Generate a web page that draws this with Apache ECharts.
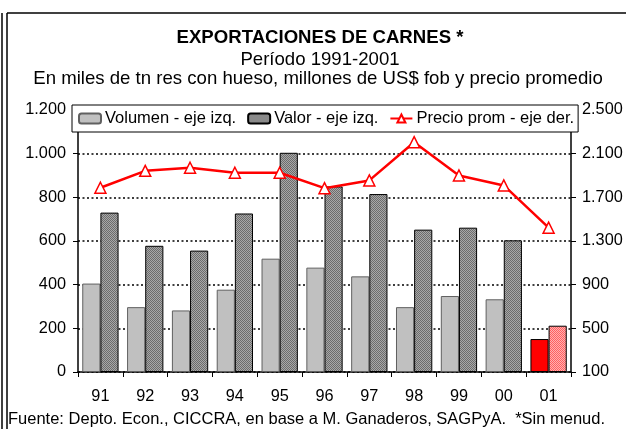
<!DOCTYPE html>
<html><head><meta charset="utf-8">
<script src="https://cdn.jsdelivr.net/npm/echarts@6/dist/echarts.min.js"></script>
<style>html,body{margin:0;padding:0;background:#fff}#c{width:626px;height:429px}</style>
</head><body><div id="c"></div>
<script>
const categories = ['91','92','93','94','95','96','97','98','99','00','01'];
const volumen = [405, 297, 282, 377, 519, 478, 438, 297, 348, 333, 151];
const valor = [730, 578, 556, 726, 1004, 850, 815, 652, 661, 603, 212];
const precio = [1788, 1943, 1971, 1925, 1925, 1784, 1855, 2205, 1900, 1809, 1422];
const titleText = 'EXPORTACIONES DE CARNES *';
const subText1 = 'Período 1991-2001';
const subText2 = 'En miles de tn res con hueso, millones de US$ fob y precio promedio';
const footText = 'Fuente: Depto. Econ., CICCRA, en base a M. Ganaderos, SAGPyA.  *Sin menud.';
const seriesNames = ['Volumen - eje izq.', 'Valor - eje izq.', 'Precio prom - eje der.'];

function pattern(c1, c2) {
  const cv = document.createElement('canvas');
  cv.width = 4; cv.height = 4;
  const ctx = cv.getContext('2d');
  ctx.fillStyle = c1; ctx.fillRect(0, 0, 4, 4);
  ctx.fillStyle = c2;
  for (let y = 0; y < 4; y++) for (let x = 0; x < 4; x++) if ((x + y) % 2 === 0) ctx.fillRect(x, y, 1, 1);
  return { image: cv, repeat: 'repeat' };
}
const fmt = v => String(v).replace(/\B(?=(\d{3})+(?!\d))/g, '.');
const FONT = 'Liberation Sans, Arial, sans-serif';
const greyPat = pattern('#a8a8a8', '#6c6c6c');
const redPat = pattern('#ffb0b0', '#ff6060');

const chart = echarts.init(document.getElementById('c'), null, { renderer: 'canvas' });
const last = categories.length - 1;
chart.setOption({
  animation: false,
  backgroundColor: '#fff',
  textStyle: { fontFamily: FONT },
  title: [
    { text: titleText, left: 320, top: 28, textAlign: 'center', padding: 0,
      textStyle: { fontFamily: FONT, fontSize: 18.6, fontWeight: 'bold', color: '#000' } },
    { text: subText1, left: 320, top: 50, textAlign: 'center', padding: 0,
      textStyle: { fontFamily: FONT, fontSize: 18.6, fontWeight: 'normal', color: '#000' } },
    { text: subText2, left: 318, top: 69, textAlign: 'center', padding: 0,
      textStyle: { fontFamily: FONT, fontSize: 18.6, fontWeight: 'normal', color: '#000' } },
    { text: footText, left: 8, top: 411, padding: 0,
      textStyle: { fontFamily: FONT, fontSize: 16.5, fontWeight: 'normal', color: '#000' } }
  ],
  legend: {
    left: 72, top: 105, width: 505,
    padding: [5, 4, 5, 6],
    itemGap: 11, itemWidth: 22, itemHeight: 10,
    backgroundColor: '#fff', borderColor: '#000', borderWidth: 1,
    textStyle: { fontFamily: FONT, fontSize: 16.5, color: '#000', padding: [0, 0, 0, -1] },
    data: seriesNames,
    z: 10
  },
  grid: { left: 78, right: 55, top: 110, bottom: 57, containLabel: false },
  xAxis: {
    type: 'category', data: categories,
    axisLine: { lineStyle: { color: '#000', width: 1.5 } },
    axisTick: { show: true, alignWithLabel: false, length: 5, lineStyle: { color: '#000' } },
    axisLabel: { color: '#000', fontSize: 16.3, fontFamily: FONT, margin: 17 }
  },
  yAxis: [
    { type: 'value', min: 0, max: 1200, interval: 200, position: 'left',
      axisLine: { show: true, lineStyle: { color: '#000', width: 1.5 } },
      axisTick: { show: true, length: 5, lineStyle: { color: '#000' } },
      axisLabel: { color: '#000', fontSize: 16.3, fontFamily: FONT, margin: 12, formatter: fmt },
      splitLine: { show: true, lineStyle: { color: '#000', width: 1.5, type: [2, 2.5] } } },
    { type: 'value', min: 100, max: 2500, interval: 400, position: 'right',
      axisLine: { show: true, lineStyle: { color: '#000', width: 1.5 } },
      axisTick: { show: true, length: 5, lineStyle: { color: '#000' } },
      axisLabel: { color: '#000', fontSize: 16.3, fontFamily: FONT, margin: 11, formatter: fmt },
      splitLine: { show: false } }
  ],
  series: [
    { name: seriesNames[0], type: 'bar', yAxisIndex: 0, barGap: '0%', barCategoryGap: '19%',
      itemStyle: { color: '#c0c0c0', borderColor: '#606060', borderWidth: 1 },
      data: volumen.map((v, i) => i === last ? { value: v, itemStyle: { color: '#ff0000', borderColor: '#000' } } : v) },
    { name: seriesNames[1], type: 'bar', yAxisIndex: 0, barGap: '0%', barCategoryGap: '19%',
      itemStyle: { color: greyPat, borderColor: '#000', borderWidth: 1 },
      data: valor.map((v, i) => i === last ? { value: v, itemStyle: { color: redPat, borderColor: '#000' } } : v) },
    { name: seriesNames[2], type: 'line', yAxisIndex: 1, data: precio,
      symbol: 'triangle', symbolSize: 11,
      lineStyle: { color: '#ff0000', width: 2.5 },
      itemStyle: { color: '#fff', borderColor: '#ff0000', borderWidth: 1.5 },
      z: 5 }
  ],
  graphic: [
    { type: 'line', shape: { x1: 7, y1: 13, x2: 640, y2: 13 }, style: { stroke: '#000', lineWidth: 1.5 } },
    { type: 'line', shape: { x1: 7, y1: 13, x2: 7, y2: 440 }, style: { stroke: '#000', lineWidth: 1.5 } },
    { type: 'line', shape: { x1: 2, y1: 13, x2: 2, y2: 440 }, style: { stroke: '#000', lineWidth: 1.5 } }
  ]
});
</script>
</body></html>
